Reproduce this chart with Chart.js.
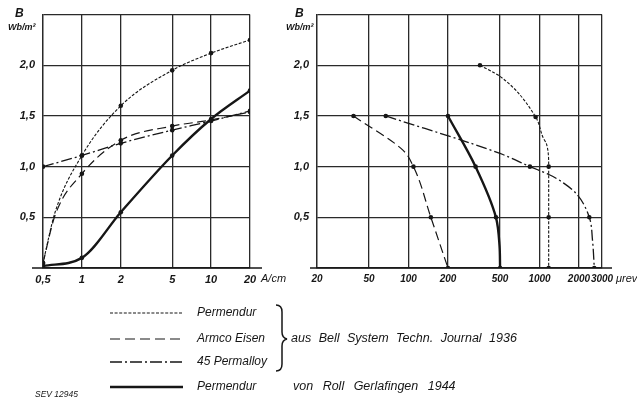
<!DOCTYPE html>
<html>
<head>
<meta charset="utf-8">
<script src="https://cdn.jsdelivr.net/npm/chart.js@4.4.1/dist/chart.umd.min.js"></script>
<style>
  body { margin: 0; background: #fff; }
  #page { position: relative; width: 637px; height: 403px; overflow: hidden; font-family: "Liberation Sans", sans-serif; font-style: italic; color: #161616; }
  canvas { position: absolute; top: 0; }
  .t { position: absolute; white-space: nowrap; line-height: 1; }
  .unit { font-size: 9px; font-weight: bold; }
  .big { font-size: 12px; font-weight: bold; }
  .leg { font-size: 12px; }
  .src { font-size: 12.5px; }
</style>
</head>
<body>
<div id="page">
  <canvas id="left" width="290" height="300" style="left:0"></canvas>
  <canvas id="right" width="357" height="300" style="left:280px"></canvas>

  <div class="t big" style="left:15px;top:7px">B</div>
  <div class="t unit" style="left:8px;top:23px">Wb/m²</div>
  <div class="t big" style="left:295px;top:7px">B</div>
  <div class="t unit" style="left:286px;top:23px">Wb/m²</div>
  <div class="t" style="left:261px;top:273px;font-size:11px">A/cm</div>
  <div class="t" style="left:616px;top:273px;font-size:11px">μrev</div>

  <svg style="position:absolute;left:0;top:0" width="637" height="403">
    <g stroke="#161616" fill="none">
      <line x1="110" y1="313" x2="183" y2="313" stroke-width="1.1" stroke-dasharray="3,1.6"/>
      <line x1="110" y1="339" x2="183" y2="339" stroke-width="1.2" stroke-dasharray="10,5"/>
      <line x1="110" y1="362" x2="183" y2="362" stroke-width="1.3" stroke-dasharray="12,3,2,3"/>
      <line x1="110" y1="387" x2="183" y2="387" stroke-width="2.4"/>
      <path d="M276,305 Q282,305 282,312 L282,332 Q282,338 287,339 Q282,340 282,346 L282,364 Q282,371 276,371" stroke-width="1.5"/>
    </g>
  </svg>
  <div class="t leg" style="left:197px;top:306px">Permendur</div>
  <div class="t leg" style="left:197px;top:332px">Armco Eisen</div>
  <div class="t leg" style="left:197px;top:355px">45 Permalloy</div>
  <div class="t leg" style="left:197px;top:380px">Permendur</div>
  <div class="t src" style="left:291px;top:332px;word-spacing:4px">aus Bell System Techn. Journal 1936</div>
  <div class="t src" style="left:293px;top:380px;word-spacing:6px">von Roll Gerlafingen 1944</div>
  <div class="t" style="left:35px;top:390px;font-size:8.5px">SEV 12945</div>
</div>

<script>
const ink = "#161616";

// left panel: B over field strength H (A/cm)
const hTicks = [0.5, 1, 2, 5, 10, 20];
const hPermendur = [0.5, 0.62, 1, 2, 5, 10, 20];
const bPermendur = [0.05, 0.55, 1.11, 1.60, 1.95, 2.12, 2.25];
const dotPermendur = [1, 0, 1, 1, 1, 1, 1];
const hArmco = [0.5, 0.62, 1, 2, 5, 10, 20];
const bArmco = [0.05, 0.52, 0.93, 1.26, 1.40, 1.46, 1.54];
const dotArmco = [1, 0, 1, 1, 1, 1, 1];
const hPermalloy = [0.5, 1, 2, 5, 10, 20];
const bPermalloy = [1.0, 1.11, 1.23, 1.36, 1.45, 1.55];
const dotPermalloy = [1, 1, 1, 1, 1, 1];
const hVonRoll = [0.5, 1, 2, 5, 10, 20];
const bVonRoll = [0.02, 0.10, 0.55, 1.11, 1.47, 1.75];
const dotVonRoll = [1, 1, 1, 1, 1, 1];

// right panel: B over reversible permeability
const muTicks = [20, 50, 100, 200, 500, 1000, 2000, 3000];
const muPermendur = [351, 500, 934, 1062, 1133, 1175, 1175, 1175];
const bPermendurR = [2.0, 1.89, 1.49, 1.29, 1.22, 1.0, 0.5, 0];
const dotPermendurR = [1, 0, 1, 0, 0, 1, 1, 1];
const muArmco = [38, 91, 109, 148, 200];
const bArmcoR = [1.5, 1.16, 1.0, 0.5, 0];
const dotArmcoR = [1, 0, 1, 1, 1];
const muPermalloy = [67, 499, 845, 1190, 1520, 1920, 2400, 2540, 2620];
const bPermalloyR = [1.5, 1.13, 1.0, 0.92, 0.84, 0.73, 0.5, 0.27, 0];
const dotPermalloyR = [1, 0, 1, 0, 0, 0, 1, 0, 1];
const muVonRoll = [200, 325, 465, 495, 500];
const bVonRollR = [1.5, 1.0, 0.5, 0.22, 0];
const dotVonRollR = [1, 1, 1, 0, 1];

const dashes = { permendur: [3, 1.6], armco: [9, 4.5], permalloy: [11, 3, 2, 3], vonroll: [] };

const series = (xs, ys, dots, dash, width) => ({
  data: xs.map((x, i) => ({ x: x, y: ys[i] })),
  borderColor: ink,
  backgroundColor: ink,
  borderWidth: width,
  borderDash: dash,
  pointRadius: dots.map((d) => (d ? 2.3 : 0)),
  pointBorderWidth: 0,
  cubicInterpolationMode: "monotone",
  fill: false,
});

const axisExt = {
  id: "axisExt",
  afterDraw(chart, args, opts) {
    const { ctx, chartArea: a } = chart;
    ctx.save();
    ctx.strokeStyle = ink;
    ctx.lineWidth = 1.4;
    ctx.beginPath();
    ctx.moveTo(a.left - opts.left, a.bottom);
    ctx.lineTo(a.right + opts.right, a.bottom);
    ctx.stroke();
    ctx.restore();
  },
};

const yFont = { family: "Liberation Sans", style: "italic", weight: "bold", size: 11 };
const comma = (v) => String(v).replace(".", ",");

const makePanel = (id, datasets, ticks, min, max, axisWidth, padRight, ext, indexAxis, xSize) =>
  new Chart(document.getElementById(id), {
    type: "line",
    plugins: [axisExt],
    data: { datasets: datasets },
    options: {
      responsive: false,
      animation: false,
      indexAxis: indexAxis,
      layout: { padding: { left: 0, top: 6, right: padRight, bottom: 0 } },
      plugins: { legend: { display: false }, tooltip: { enabled: false }, axisExt: ext },
      scales: {
        x: {
          type: "logarithmic",
          axis: "x",
          position: "bottom",
          min: min,
          max: max,
          afterBuildTicks: (s) => { s.ticks = ticks.map((v) => ({ value: v })); },
          afterFit: (s) => { s.height = 32; },
          grid: { color: "#2a2a2a", lineWidth: 1.3, drawTicks: false },
          border: { color: "#2a2a2a", width: 1.3 },
          ticks: {
            color: ink,
            font: { family: "Liberation Sans", style: "italic", weight: "bold", size: xSize },
            padding: 5,
            autoSkip: false,
            maxRotation: 0,
            callback: (v) => comma(v),
          },
        },
        y: {
          type: "linear",
          axis: "y",
          position: "left",
          min: 0,
          max: 2.5,
          afterFit: (s) => { s.width = axisWidth; },
          grid: { color: "#2a2a2a", lineWidth: 1.3, drawTicks: false },
          border: { color: "#2a2a2a", width: 1.3 },
          ticks: {
            stepSize: 0.5,
            color: ink,
            font: yFont,
            padding: 8,
            callback: (v) => (v === 0 || v > 2.4 ? "" : v.toFixed(1).replace(".", ",")),
          },
        },
      },
    },
  });

makePanel("left", [
  series(hPermendur, bPermendur, dotPermendur, dashes.permendur, 1.1),
  series(hArmco, bArmco, dotArmco, dashes.armco, 1.2),
  series(hPermalloy, bPermalloy, dotPermalloy, dashes.permalloy, 1.3),
  series(hVonRoll, bVonRoll, dotVonRoll, dashes.vonroll, 2.4),
], hTicks, 0.5, 20, 43, 40, { left: 11, right: 12 }, "x", 11);

makePanel("right", [
  series(muPermendur, bPermendurR, dotPermendurR, dashes.permendur, 1.1),
  series(muArmco, bArmcoR, dotArmcoR, dashes.armco, 1.2),
  series(muPermalloy, bPermalloyR, dotPermalloyR, dashes.permalloy, 1.3),
  series(muVonRoll, bVonRollR, dotVonRollR, dashes.vonroll, 2.4),
], muTicks, 20, 3000, 37, 35, { left: 7, right: 10 }, "y", 10);
</script>
</body>
</html>
